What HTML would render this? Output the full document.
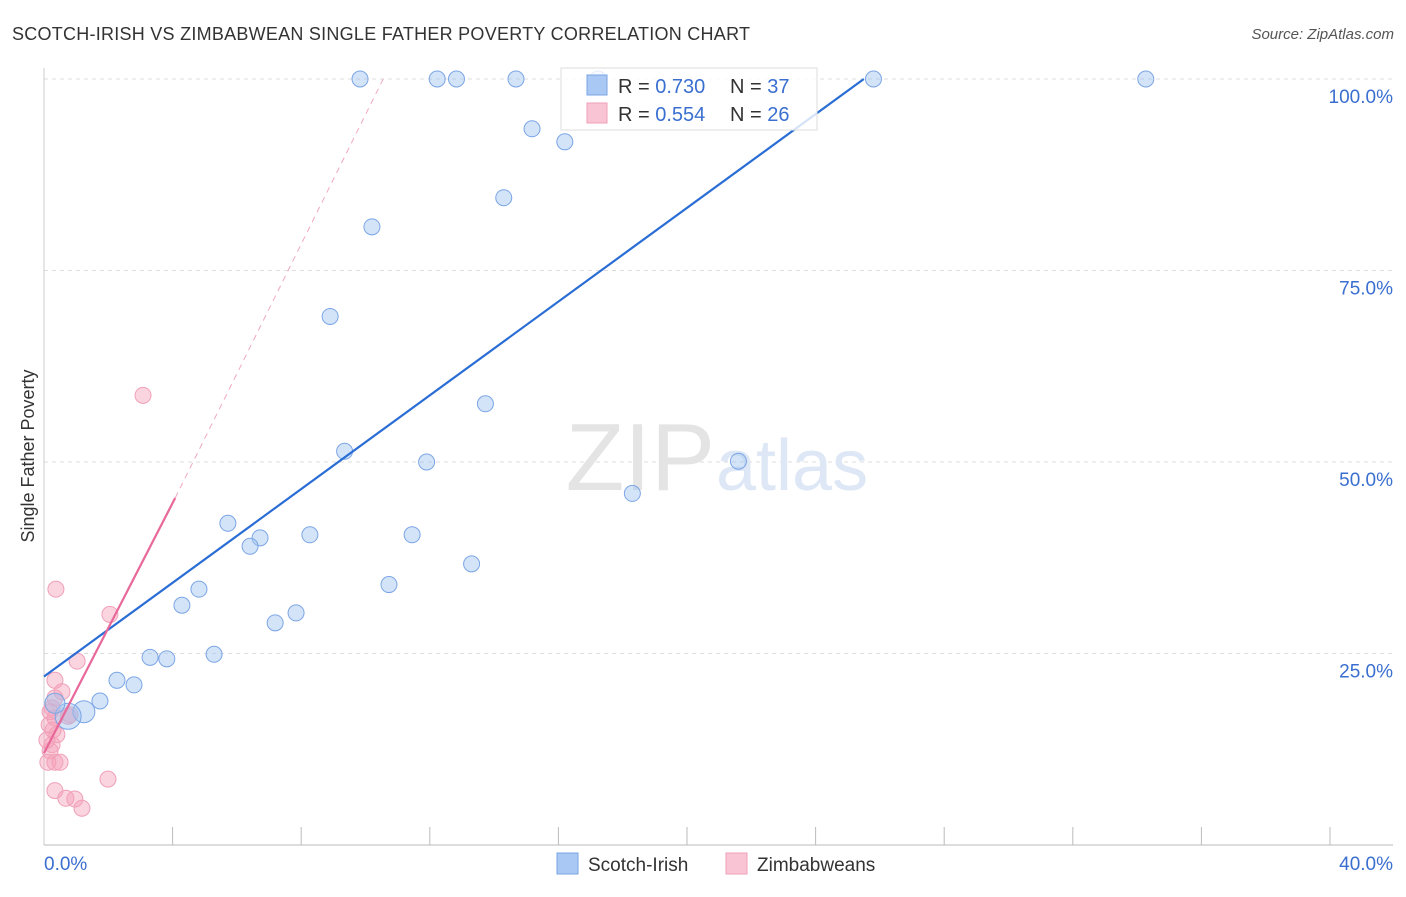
<!DOCTYPE html>
<html><head><meta charset="utf-8"><style>
body{margin:0;background:#fff;font-family:"Liberation Sans",sans-serif;}
svg text{font-family:"Liberation Sans",sans-serif;}
</style></head><body>
<svg id="chart" width="1406" height="892">
<text x="12" y="40" font-size="18" fill="#333" textLength="738">SCOTCH-IRISH VS ZIMBABWEAN SINGLE FATHER POVERTY CORRELATION CHART</text>
<text x="1394" y="39" font-size="15" fill="#555" text-anchor="end" font-style="italic">Source: ZipAtlas.com</text>
<text x="34" y="456" font-size="18" fill="#333" text-anchor="middle" transform="rotate(-90 34 456)">Single Father Poverty</text>
<g id="grid"></g>
<text x="715" y="490" font-size="96" fill="#e4e4e4" text-anchor="end" font-family="Liberation Serif">ZIP</text>
<text x="716" y="490" font-size="72" fill="#dde7f5">atlas</text>
<g id="marks"></g>
<g>
<rect x="561" y="68" width="256" height="62" fill="#fff" fill-opacity="0.8" stroke="#ddd"/>
<rect x="587" y="75" width="20" height="20" fill="#a9c8f3" stroke="#7ba5e6"/>
<rect x="587" y="103" width="20" height="20" fill="#f9c5d4" stroke="#f0a0b8"/>
<text x="618" y="93" font-size="20" fill="#333">R = <tspan fill="#3a6fd0">0.730</tspan><tspan x="730">N = </tspan><tspan fill="#3a6fd0">37</tspan></text>
<text x="618" y="121" font-size="20" fill="#333">R = <tspan fill="#3a6fd0">0.554</tspan><tspan x="730">N = </tspan><tspan fill="#3a6fd0">26</tspan></text>
</g>
<g>
<rect x="557" y="853" width="21" height="21" fill="#a9c8f3" stroke="#7ba5e6"/>
<text x="588" y="871" font-size="19" fill="#333">Scotch-Irish</text>
<rect x="726" y="853" width="21" height="21" fill="#f9c5d4" stroke="#f0a0b8"/>
<text x="757" y="871" font-size="19" fill="#333">Zimbabweans</text>
</g>
</svg>
<script>
const yTicks=[25,50,75,100];
const xTickLabels=["0.0%","40.0%"];
const blueX=[9.83,12.23,12.83,14.68,17.23,25.8,34.27,15.18,16.2,14.3,10.2,8.9,13.73,9.35,11.9,21.6,18.3,5.72,6.72,6.41,8.27,11.45,13.3,10.73,4.82,4.29,7.84,7.19,5.29,3.3,3.82,2.27,2.8,1.74,1.24,0.75,0.34];
const blueY=[100,100,100,100,100,100,100,93.5,91.8,84.5,80.7,69,57.6,51.4,50,50.1,45.9,42,40.1,39.0,40.5,40.5,36.7,34,33.4,31.3,30.3,29,24.9,24.5,24.3,21.5,20.9,18.8,17.4,16.8,18.5];
const blueR=[8,8,8,8,8,8,8,8,8,8,8,8,8,8,8,8,8,8,8,8,8,8,8,8,8,8,8,8,8,8,8,8,8,8,11,13,10];
const pinkX=[3.08,0.37,2.05,1.03,0.34,0.56,0.34,0.25,0.19,0.34,0.75,0.16,0.4,0.25,0.19,0.12,0.34,0.5,1.99,0.34,0.68,0.96,1.18,0.81,0.09,0.28];
const pinkY=[58.7,33.4,30.1,24,21.5,20,19.2,17.9,17.4,16.6,16.8,15.7,14.4,13.1,12.3,10.8,10.8,10.8,8.6,7.1,6.1,6,4.8,17,13.7,15];
const blueLine=[[0,22],[25.5,100]];
const pinkLine=[[0,12],[4.08,45.3]];
const pinkDash=[[4.08,45.3],[10.55,100]];
const X=v=>44+v/40*1286, Y=v=>845-v/100*766;
const NS="http://www.w3.org/2000/svg";
function mk(t,a,p){const e=document.createElementNS(NS,t);for(const k in a)e.setAttribute(k,a[k]);p.appendChild(e);return e;}
const grid=document.getElementById('grid'),marks=document.getElementById('marks');
yTicks.forEach(v=>{
 const l=mk('line',{x1:44,x2:1393,y1:Y(v),y2:Y(v),stroke:'#ddd','stroke-dasharray':'4 4'},grid);
 
 
 const t=mk('text',{x:1393,y:Y(v)+24,'font-size':19,fill:'#3a6fd0','text-anchor':'end'},grid);
 t.textContent=v.toFixed(1)+'%';
 
 
});
mk('line',{x1:44,x2:44,y1:68,y2:845,stroke:'#ccc'},grid);
const ax=mk('line',{x1:44,x2:1393,y1:845,y2:845,stroke:'#bbb'},grid);


for(let i=1;i<=10;i++){mk('line',{x1:X(i*4),x2:X(i*4),y1:827,y2:845,stroke:'#bbb'},grid);}
const t0=mk('text',{x:44,y:870,'font-size':19,fill:'#3a6fd0'},grid);t0.textContent=xTickLabels[0];


const t1=mk('text',{x:1393,y:870,'font-size':19,fill:'#3a6fd0','text-anchor':'end'},grid);t1.textContent=xTickLabels[1];


pinkX.forEach((x,i)=>{const c=mk('circle',{cx:X(x),cy:Y(pinkY[i]),r:8,fill:'rgba(245,160,185,0.45)',stroke:'#f0a0b8','stroke-width':1},marks);
 
 });
blueX.forEach((x,i)=>{const c=mk('circle',{cx:X(x),cy:Y(blueY[i]),r:blueR[i],fill:'rgba(160,195,240,0.45)',stroke:'#7ba5e6','stroke-width':1},marks);
 
 });
const bl=mk('line',{x1:X(blueLine[0][0]),y1:Y(blueLine[0][1]),x2:X(blueLine[1][0]),y2:Y(blueLine[1][1]),stroke:'#2a6dd4','stroke-width':2.2},marks);


const pl=mk('line',{x1:X(pinkLine[0][0]),y1:Y(pinkLine[0][1]),x2:X(pinkLine[1][0]),y2:Y(pinkLine[1][1]),stroke:'#e8689a','stroke-width':2.2},marks);


const pd=mk('line',{x1:X(pinkDash[0][0]),y1:Y(pinkDash[0][1]),x2:X(pinkDash[1][0]),y2:Y(pinkDash[1][1]),stroke:'#f0a8c0','stroke-width':1,'stroke-dasharray':'6 5'},marks);


</script>
</body></html>
